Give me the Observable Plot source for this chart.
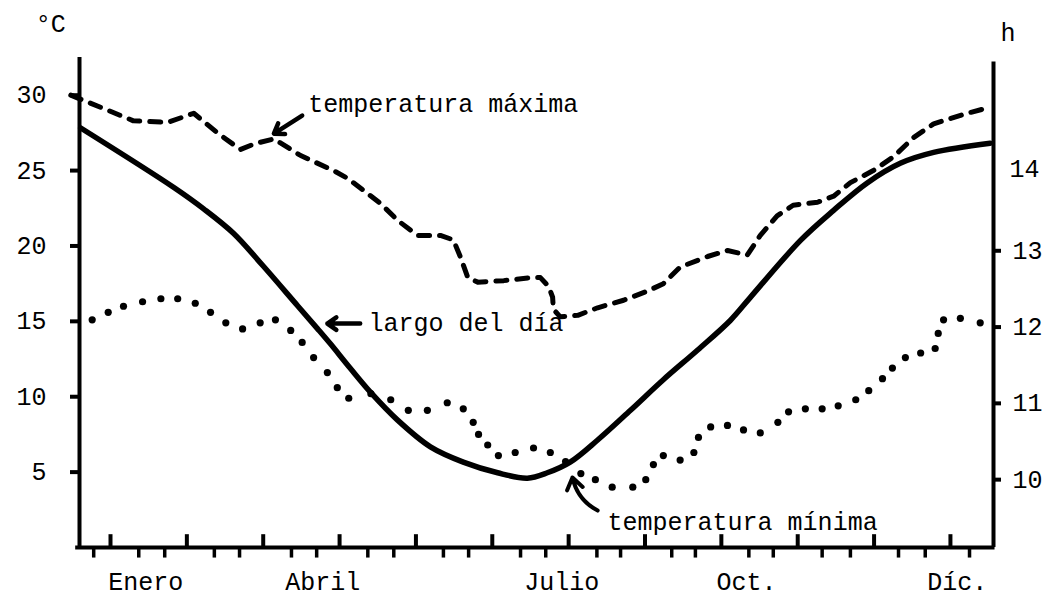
<!DOCTYPE html>
<html><head><meta charset="utf-8">
<script src="https://cdn.jsdelivr.net/npm/d3@7"></script>
<script src="https://cdn.jsdelivr.net/npm/@observablehq/plot@0.6"></script>
<style>html,body{margin:0;padding:0;background:#fff;} svg{display:block}</style>
</head><body><div id="chart"></div>
<script>
// x is measured in month units (1 = first month tick, 12 = last month tick)
const xDomain = [0.594, 12.564];
const yDomain = [0, 32.5];          // °C
const axisTopLeft = 32.5;
const axisTopRight = 32.2;

const monthLabels = ["Enero", "Abril", "Julio", "Oct.", "Díc."];
const monthLabelPos = [1.46, 3.78, 6.91, 9.33, 12.09];
const monthTicks = [1, 2, 3, 4, 5, 6, 7, 8, 9, 10, 11, 12];
const decadeTicks = [0.78, 1.37, 1.71, 2.36, 2.69, 3.37, 3.70, 4.37, 4.71, 5.36, 5.69, 6.37, 6.70,
  7.37, 7.68, 8.35, 8.66, 9.36, 9.68, 10.32, 10.69, 11.32, 11.67, 12.25];
const tempTicks = [5, 10, 15, 20, 25, 30];
const hourTicks = [10, 11, 12, 13];
const hourLabelOnly = [14];

// temperatura máxima (°C)
const maxX = [0.48, 0.87, 1.30, 1.75, 2.09, 2.40, 2.70, 2.90, 3.14, 3.49, 3.92, 4.10, 4.31, 4.54, 4.76,
  5.02, 5.32, 5.49, 5.58, 5.68, 5.81, 6.15, 6.50, 6.63, 6.74, 6.79, 6.80, 6.89, 7.12, 7.38, 7.72,
  8.03, 8.24, 8.46, 8.82, 9.08, 9.34, 9.51, 9.73, 9.94, 10.26, 10.47, 10.69, 10.99, 11.25, 11.52,
  11.78, 12.22, 12.52];
const maxT = [30.0, 29.2, 28.3, 28.2, 28.8, 27.5, 26.4, 26.8, 27.1, 26.0, 25.0, 24.5, 23.7, 22.8, 21.7,
  20.7, 20.7, 20.4, 19.3, 17.9, 17.6, 17.7, 17.9, 17.9, 17.3, 16.6, 15.8, 15.3, 15.4, 15.9, 16.4,
  17.0, 17.5, 18.6, 19.3, 19.7, 19.4, 20.7, 22.0, 22.7, 22.9, 23.3, 24.2, 25.0, 25.9, 27.2,
  28.1, 28.8, 29.2];

// temperatura mínima (°C)
const minX = [0.76, 0.97, 1.17, 1.42, 1.66, 1.88, 2.11, 2.31, 2.51, 2.73, 2.96, 3.16, 3.36, 3.51, 3.66,
  3.84, 3.97, 4.12, 4.41, 4.67, 4.90, 5.15, 5.41, 5.62, 5.75, 5.82, 5.94, 6.08, 6.30, 6.54, 6.76,
  6.96, 7.16, 7.35, 7.57, 7.84, 8.01, 8.11, 8.24, 8.46, 8.64, 8.70, 8.86, 9.08, 9.29, 9.51, 9.74,
  9.88, 10.10, 10.32, 10.53, 10.76, 10.93, 11.11, 11.24, 11.41, 11.61, 11.80, 11.84, 11.91, 12.13, 12.39];
const minT = [15.1, 15.6, 16.0, 16.3, 16.5, 16.5, 16.2, 15.6, 14.9, 14.5, 14.9, 15.1, 14.4, 13.6, 12.6,
  11.6, 10.6, 9.9, 10.2, 9.8, 9.1, 9.1, 9.6, 9.2, 8.3, 7.5, 6.8, 6.1, 6.3, 6.6, 6.3,
  5.7, 4.9, 4.5, 4.0, 4.0, 4.5, 5.5, 6.1, 5.8, 6.3, 7.3, 8.0, 8.1, 7.8, 7.6, 8.3,
  9.0, 9.2, 9.2, 9.4, 9.8, 10.4, 11.2, 11.9, 12.6, 12.9, 13.2, 14.2, 15.1, 15.2, 14.9];

// largo del día (h)
const dayX = [0.61, 1.83, 2.22, 2.61, 3.00, 3.45, 3.71, 3.88, 4.14, 4.41, 4.76, 5.19, 5.62, 6.07, 6.46, 6.72, 7.02,
  7.38, 7.81, 8.24, 8.69, 9.12, 9.38, 10.04, 10.47, 10.91, 11.35, 11.78, 12.52];
const dayH = [14.61, 13.83, 13.55, 13.23, 12.80, 12.28, 11.98, 11.78, 11.46, 11.14, 10.78, 10.43, 10.23, 10.09, 10.02, 10.09, 10.23,
  10.52, 10.91, 11.31, 11.70, 12.09, 12.39, 13.14, 13.53, 13.89, 14.15, 14.29, 14.41];

// annotations
const annLabels = ["temperatura máxima", "largo del día", "temperatura mínima"];
const annX = [3.59, 4.38, 7.51];
const annT = [29.4, 14.92, 1.66];
const arrowStraight = {x1: [3.51, 4.27], y1: [28.65, 14.85], x2: [3.14, 3.84], y2: [27.45, 14.85]};
const arrowBent = {x1: [7.38], y1: [2.45], x2: [7.05], y2: [4.64]};
const unitLabels = ["°C", "h"];
const unitX = [0.02, 12.655];
const unitT = [34.7, 34.15];

// right axis: hours mapped onto the °C scale
const hToC = h => 4.5 + 5.06 * (h - 10);
const cToH = c => Math.round((c - 4.5) / 5.06 + 10);

const font = "Liberation Mono, DejaVu Sans Mono, monospace";

const chart = Plot.plot({
  width: 1042, height: 596,
  marginLeft: 79, marginRight: 49, marginTop: 57, marginBottom: 49,
  x: {domain: xDomain, axis: null},
  y: {domain: yDomain, axis: null},
  style: {fontFamily: font, fontSize: "25px", color: "black", background: "white"},
  marks: [
    Plot.ruleX([xDomain[0]], {y1: 0, y2: axisTopLeft, strokeWidth: 4}),
    Plot.ruleX([xDomain[1]], {y1: 0, y2: axisTopRight, strokeWidth: 4}),
    Plot.ruleY([0], {x1: xDomain[0] - 0.05, x2: xDomain[1] + 0.02, strokeWidth: 4}),
    Plot.ruleX(monthTicks, {x: d => d, y1: 0, y2: 0.85, strokeWidth: 4}),
    Plot.ruleX(decadeTicks, {x: d => d, y1: 0, y2: -0.7, strokeWidth: 3.5}),
    Plot.axisY({ticks: tempTicks, anchor: "left", tickSize: 9, tickPadding: 24, strokeWidth: 4, fontSize: 25}),
    Plot.axisY({ticks: hourTicks.map(hToC), anchor: "right", tickSize: 7, tickPadding: 12, strokeWidth: 4,
      fontSize: 25, tickFormat: d => String(cToH(d))}),
    Plot.axisY({ticks: hourLabelOnly.map(hToC), anchor: "right", tickSize: 0, tickPadding: 16,
      fontSize: 25, tickFormat: d => String(cToH(d)), dy: -5}),
    Plot.text(monthLabels, {x: (d, i) => monthLabelPos[i], y: () => 0, dy: 34, text: d => d, fontSize: 25}),
    Plot.line(dayX, {x: d => d, y: (d, i) => hToC(dayH[i]), strokeWidth: 5.5, curve: "catmull-rom"}),
    Plot.line(maxX, {x: d => d, y: (d, i) => maxT[i], strokeWidth: 5, strokeDasharray: "11,10",
      strokeLinecap: "round", strokeLinejoin: "round"}),
    Plot.dot(minX, {x: d => d, y: (d, i) => minT[i], r: 3.6, fill: "black", stroke: null}),
    Plot.text(annLabels, {x: (d, i) => annX[i], y: (d, i) => annT[i], text: d => d, textAnchor: "start", fontSize: 25}),
    Plot.arrow(arrowStraight.x1, {x1: d => d, y1: (d, i) => arrowStraight.y1[i], x2: (d, i) => arrowStraight.x2[i],
      y2: (d, i) => arrowStraight.y2[i], strokeWidth: 4.5, headLength: 14, headAngle: 70}),
    Plot.arrow(arrowBent.x1, {x1: d => d, y1: (d, i) => arrowBent.y1[i], x2: (d, i) => arrowBent.x2[i],
      y2: (d, i) => arrowBent.y2[i], strokeWidth: 4, headLength: 14, headAngle: 70, bend: 25}),
    Plot.text(unitLabels, {x: (d, i) => unitX[i], y: (d, i) => unitT[i], text: d => d, textAnchor: "start", fontSize: 25})
  ]
});
document.getElementById("chart").appendChild(chart);
</script>
</body></html>
